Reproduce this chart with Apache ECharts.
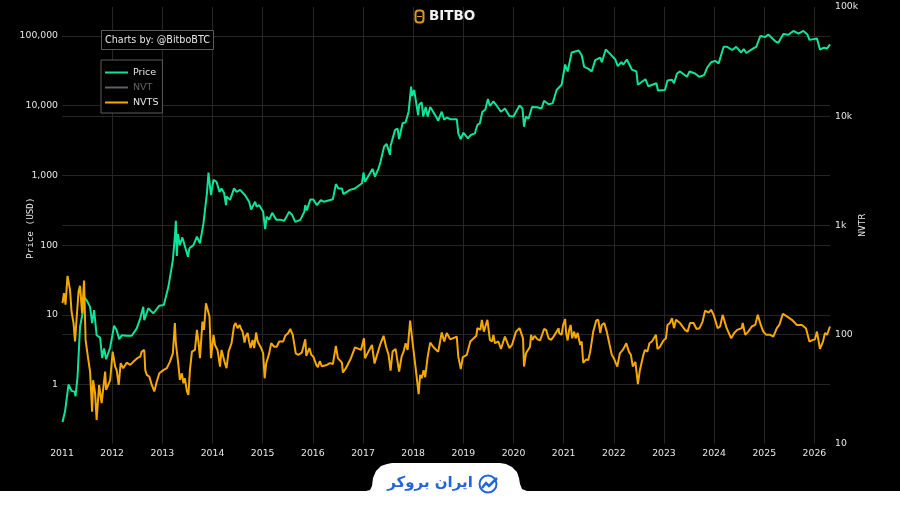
<!DOCTYPE html>
<html>
<head>
<meta charset="utf-8">
<style>html,body{margin:0;padding:0;background:#000}#chart{width:900px;height:506px}</style>
<script src="https://cdn.jsdelivr.net/npm/echarts@6/dist/echarts.min.js"></script>
</head>
<body>
<div id="chart"></div>
<script>
// تاریخ به صورت سال اعشاری
const priceDates = [2011.01,2011.06,2011.13,2011.19,2011.25,2011.27,2011.31,2011.36,2011.41,2011.44,2011.49,2011.56,2011.60,2011.64,2011.69,2011.76,2011.80,2011.84,2011.88,2011.96,2012.04,2012.09,2012.14,2012.19,2012.29,2012.39,2012.49,2012.56,2012.62,2012.64,2012.72,2012.82,2012.94,2013.03,2013.12,2013.21,2013.25,2013.27,2013.29,2013.31,2013.35,2013.40,2013.51,2013.54,2013.62,2013.69,2013.75,2013.82,2013.89,2013.92,2013.97,2014.02,2014.08,2014.14,2014.18,2014.23,2014.27,2014.28,2014.35,2014.43,2014.48,2014.55,2014.65,2014.73,2014.77,2014.85,2014.88,2014.93,2015.01,2015.05,2015.08,2015.13,2015.19,2015.27,2015.35,2015.43,2015.53,2015.59,2015.65,2015.75,2015.83,2015.85,2015.88,2015.95,2016.01,2016.08,2016.16,2016.22,2016.40,2016.46,2016.51,2016.58,2016.61,2016.74,2016.84,2016.98,2017.01,2017.04,2017.19,2017.24,2017.31,2017.35,2017.42,2017.47,2017.54,2017.55,2017.64,2017.69,2017.72,2017.79,2017.85,2017.91,2017.96,2017.98,2018.02,2018.10,2018.12,2018.17,2018.20,2018.25,2018.29,2018.34,2018.44,2018.50,2018.57,2018.62,2018.67,2018.74,2018.87,2018.90,2018.95,2019.00,2019.09,2019.15,2019.23,2019.28,2019.33,2019.38,2019.44,2019.49,2019.53,2019.60,2019.67,2019.75,2019.83,2019.92,2020.00,2020.12,2020.18,2020.21,2020.25,2020.30,2020.37,2020.47,2020.56,2020.61,2020.70,2020.78,2020.86,2020.96,2021.03,2021.08,2021.16,2021.30,2021.36,2021.41,2021.49,2021.56,2021.63,2021.73,2021.76,2021.84,2021.93,2022.03,2022.08,2022.15,2022.19,2022.26,2022.36,2022.39,2022.45,2022.48,2022.63,2022.69,2022.85,2022.88,2023.02,2023.07,2023.16,2023.20,2023.26,2023.32,2023.46,2023.51,2023.62,2023.70,2023.80,2023.86,2023.94,2024.02,2024.09,2024.19,2024.26,2024.36,2024.44,2024.54,2024.59,2024.64,2024.79,2024.84,2024.92,2025.02,2025.08,2025.22,2025.28,2025.38,2025.48,2025.58,2025.68,2025.78,2025.86,2025.90,2026.05,2026.11,2026.19,2026.25,2026.31];
const priceValues = [0.29,0.41,1.0,0.81,0.79,0.68,1.3,6.75,10.5,18,16.3,13,7.6,11.7,5.1,4.7,2.4,3.3,2.3,3.4,7,6,4.45,5.1,5,5,6.4,8.9,13,8.4,12.4,10.5,13.5,13.8,25,61,132,224,70,144,100,129,68,90,100,132,106,205,560,1100,520,860,810,580,650,560,375,500,445,650,580,620,520,420,325,420,355,375,300,170,255,232,290,232,232,224,300,270,215,230,300,375,315,450,450,375,440,420,455,750,650,650,540,620,650,770,1100,810,1240,960,1260,1570,2580,2830,1960,2640,4500,4700,3320,5600,5800,8200,18800,13800,16800,7300,10300,11200,7000,9600,7000,9600,7300,6100,8200,6300,6800,6400,6400,4020,3300,4100,3400,3800,4000,5300,5600,8200,8800,12500,9900,11500,9900,8200,9100,7100,7000,10100,9100,5000,7000,6500,9600,9500,9100,11800,10500,10800,16800,20000,39000,31000,58000,62000,53000,36000,34000,31000,45000,49000,42000,64000,55000,46000,37000,42000,39000,46000,33000,31000,31000,20000,24000,19000,21000,16500,16800,23000,23500,21000,29000,31000,26000,31000,29000,26000,27500,35000,42000,44000,40500,70000,70000,63000,70000,58000,65000,57000,67000,70000,100000,97000,105000,84000,80000,107000,104000,118000,108000,118000,105000,88000,92000,64000,68000,66000,76000];
const nvtsPoints = [
    [2011.01,193],[2011.04,239],[2011.07,187],[2011.11,344],[2011.13,344],[2011.16,256],[2011.19,162],[2011.23,127],[2011.26,86],[2011.28,118],[2011.33,247],[2011.36,279],[2011.40,156],[2011.44,312],[2011.47,89],[2011.52,60.5],[2011.56,45.6],[2011.60,19.6],[2011.62,38],[2011.66,29],[2011.69,16.4],[2011.74,34.4],[2011.79,23.4],[2011.86,45.6],[2011.88,31],[2011.96,38],[2012.01,69.5],[2012.06,50.7],[2012.09,47],[2012.13,34.4],[2012.17,54.5],[2012.22,49],[2012.29,55],
    [2012.36,52.5],[2012.42,56],[2012.50,60.5],[2012.56,62.5],[2012.59,69.5],[2012.64,72],[2012.66,47],[2012.69,42.5],[2012.74,41],[2012.79,34.4],[2012.84,30],[2012.89,37],[2012.94,44],[2013.02,47],[2013.09,49],[2013.15,56],[2013.21,67],[2013.25,127],[2013.27,83],[2013.32,52.5],[2013.35,38.3],[2013.39,44],[2013.42,35.6],[2013.45,39.6],[2013.49,30],[2013.52,27.9],[2013.55,47],[2013.59,69.5],[2013.65,72],[2013.69,110],[2013.72,86],[2013.75,60.5],[2013.80,131],[2013.83,110],[2013.87,193],[2013.90,200],[2013.94,146],[2013.97,60.5],[2014.02,99],[2014.05,80],[2014.10,72],[2014.15,50.7],[2014.18,72],[2014.24,56],[2014.28,49],[2014.32,69.5],
    [2014.38,83],[2014.43,120],[2014.46,127],[2014.50,114],[2014.54,122],[2014.57,112],[2014.60,106],[2014.64,84],[2014.66,95.5],[2014.70,103],[2014.73,86],[2014.76,75],[2014.80,89],[2014.83,75],[2014.87,104],[2014.90,86],[2014.93,89],[2014.97,75],[2015.01,67],[2015.04,39.6],[2015.07,54],[2015.10,54],[2015.13,67],[2015.17,83],[2015.20,86],[2015.23,77],[2015.28,77],[2015.33,86],[2015.41,86],[2015.45,97],[2015.51,103],[2015.55,112],[2015.60,99],[2015.66,67],[2015.71,65],[2015.78,68],[2015.85,90],[2015.87,63.5],[2015.93,75],[2015.97,65],
    [2016.01,62.5],[2016.07,52.5],[2016.10,50],[2016.14,57],[2016.18,51],[2016.28,52.5],[2016.34,54.5],[2016.40,53.5],[2016.46,78.5],[2016.50,60.5],[2016.58,55],[2016.60,44.7],[2016.66,49],[2016.76,60.5],[2016.84,76],[2016.96,72],[2017.02,92],[2017.04,60.5],[2017.09,67],[2017.18,80],[2017.23,54],[2017.29,67],[2017.34,80],[2017.41,97],[2017.46,77],[2017.51,65],[2017.55,46.5],[2017.59,69.5],[2017.65,73.5],[2017.69,56],[2017.72,45.6],[2017.77,62.5],[2017.81,69.5],[2017.85,83],[2017.89,72],[2017.94,134],[2017.99,83],
    [2018.05,49],[2018.11,28.3],[2018.14,42.5],[2018.17,39.6],[2018.21,47],[2018.24,40.5],[2018.29,62.5],[2018.34,84],[2018.40,77],[2018.46,72],[2018.50,69.5],[2018.57,104],[2018.62,86],[2018.67,103],[2018.74,90],[2018.87,95.5],[2018.90,62.5],[2018.95,48],[2018.99,62],[2019.07,65],[2019.14,86],[2019.26,97],[2019.28,114],[2019.34,110],[2019.37,136],[2019.41,106],[2019.48,136],[2019.53,89],[2019.57,86],[2019.60,99],[2019.63,83],[2019.70,86],[2019.75,73.5],[2019.83,95.5],[2019.92,75],[2019.97,80],[2020.05,106],[2020.12,114],[2020.19,92],[2020.21,50.7],[2020.25,67],[2020.33,77],
    [2020.35,99],[2020.38,89],[2020.42,97],[2020.48,90],[2020.53,88],[2020.57,99],[2020.61,112],[2020.65,110],[2020.70,92],[2020.75,89],[2020.80,95.5],[2020.86,106],[2020.90,114],[2020.91,103],[2020.96,99],[2020.99,122],[2021.03,138],[2021.05,103],[2021.08,88],[2021.11,110],[2021.14,122],[2021.17,92],[2021.21,106],[2021.24,92],[2021.28,103],[2021.33,80],[2021.36,86],[2021.39,55],[2021.45,59],[2021.49,58],[2021.53,69.5],[2021.56,69.5],[2021.59,106],[2021.65,134],[2021.69,136],[2021.73,103],[2021.76,122],[2021.81,127],[2021.86,106],[2021.91,83],[2021.96,65],
    [2022.00,60.5],[2022.07,50.7],[2022.12,67],[2022.18,72],[2022.21,69.5],[2022.25,83],[2022.30,69.5],[2022.34,65],[2022.38,50.7],[2022.43,56],[2022.46,42.5],[2022.48,35],[2022.52,47],[2022.59,65],[2022.62,72],[2022.67,69.5],[2022.71,83],[2022.76,86],[2022.84,99],[2022.87,73.5],[2022.92,77],[2022.99,88],[2023.04,92],[2023.07,122],[2023.12,127],[2023.16,141],[2023.20,114],[2023.24,136],[2023.32,127],[2023.42,110],[2023.47,106],[2023.52,127],[2023.59,127],[2023.65,112],[2023.71,114],[2023.77,131],[2023.82,165],[2023.89,158],[2023.94,168],[2023.99,151],
    [2024.07,114],[2024.12,118],[2024.17,151],[2024.25,114],[2024.34,92],[2024.40,103],[2024.46,110],[2024.55,114],[2024.57,127],[2024.62,99],[2024.68,106],[2024.75,118],[2024.82,122],[2024.87,151],[2024.93,122],[2024.98,106],[2025.04,99],[2025.12,99],[2025.18,95.5],[2025.25,114],[2025.30,122],[2025.37,154],[2025.45,146],[2025.55,136],[2025.65,122],[2025.75,122],[2025.83,114],[2025.90,86],[2025.97,89],[2026.01,90],[2026.05,106],[2026.11,73.5],[2026.17,86],[2026.21,103],[2026.25,99],[2026.31,118]
];
const nvtPoints = [];

const xMin = 2011;
const xMax = 2026.31;
const priceColor = '#0de39b';
const nvtColor = '#5b6a70';
const nvtsColor = '#f5a800';
const gridColor = '#262626';
const labelColor = '#e6e6e6';
const fontName = '"DejaVu Sans", sans-serif';

function pairs(xs, ys) {
    return xs.map((x, i) => [x, ys[i]]);
}

const myChart = echarts.init(document.getElementById('chart'), null, { renderer: 'canvas' });

myChart.setOption({
    animation: false,
    backgroundColor: '#000',
    textStyle: { fontFamily: fontName },
    grid: { left: 62, right: 70, top: 7, bottom: 62.5, outerBoundsMode: 'none' },
    title: {
        text: 'Charts by: @BitboBTC',
        left: 101,
        top: 30,
        padding: [5, 4, 5, 4],
        backgroundColor: '#000',
        borderColor: '#5a5a5a',
        borderWidth: 1,
        textStyle: { color: labelColor, fontSize: 9.6, fontWeight: 'normal', fontFamily: fontName }
    },
    legend: {
        orient: 'vertical',
        left: 101,
        top: 60,
        padding: [7, 4, 5, 4],
        itemGap: 4,
        itemWidth: 23,
        itemHeight: 2,
        icon: 'rect',
        backgroundColor: '#000',
        borderColor: '#5a5a5a',
        borderWidth: 1,
        inactiveColor: '#5b6266',
        textStyle: { color: labelColor, fontSize: 9.5, lineHeight: 11, padding: [0, 0, 0, 0] },
        data: ['Price', 'NVT', 'NVTS'],
        selected: { NVT: false }
    },
    xAxis: {
        type: 'value',
        min: xMin,
        max: xMax,
        interval: 1,
        axisLine: { show: false },
        axisTick: { show: false },
        axisLabel: {
            color: labelColor,
            fontSize: 9.3,
            margin: 6,
            showMaxLabel: false,
            formatter: v => String(Math.round(v))
        },
        splitLine: { show: true, showMinLine: false, showMaxLine: false, lineStyle: { color: gridColor, width: 1 } }
    },
    yAxis: [
        {
            type: 'log',
            logBase: 10,
            min: 0.1425,
            max: 260600,
            name: 'Price (USD)',
            nameLocation: 'middle',
            nameGap: 27,
            nameMoveOverlap: false,
            nameTextStyle: { color: labelColor, fontSize: 9.3, fontFamily: '"DejaVu Sans Mono", monospace', padding: [0, 6, 0, 0] },
            axisLine: { show: false },
            axisTick: { show: false },
            axisLabel: {
                color: labelColor,
                fontSize: 9.3,
                margin: 4,
                showMinLabel: false,
                showMaxLabel: false,
                formatter: v => Math.round(v).toLocaleString('en-US')
            },
            splitLine: { show: true, showMinLine: false, showMaxLine: false, lineStyle: { color: gridColor, width: 1 } }
        },
        {
            type: 'log',
            logBase: 10,
            min: 10,
            max: 100000,
            position: 'right',
            name: 'NVTR',
            nameLocation: 'middle',
            nameRotate: 90,
            nameGap: 28,
            nameMoveOverlap: false,
            nameTextStyle: { color: labelColor, fontSize: 9.5, fontFamily: '"DejaVu Sans Mono", monospace' },
            axisLine: { show: false },
            axisTick: { show: false },
            axisLabel: {
                color: labelColor,
                fontSize: 9.3,
                margin: 5,
                formatter: v => {
                    const n = Math.round(v);
                    return n >= 1000 ? (n / 1000) + 'k' : String(n);
                }
            },
            splitLine: { show: true, showMinLine: false, showMaxLine: false, lineStyle: { color: gridColor, width: 1 } }
        }
    ],
    series: [
        {
            name: 'Price',
            type: 'line',
            yAxisIndex: 0,
            showSymbol: false,
            data: pairs(priceDates, priceValues),
            itemStyle: { color: priceColor },
            lineStyle: { color: priceColor, width: 2 }
        },
        {
            name: 'NVT',
            type: 'line',
            yAxisIndex: 1,
            showSymbol: false,
            data: nvtPoints,
            itemStyle: { color: nvtColor },
            lineStyle: { color: nvtColor, width: 2 }
        },
        {
            name: 'NVTS',
            type: 'line',
            yAxisIndex: 1,
            showSymbol: false,
            data: nvtsPoints,
            itemStyle: { color: nvtsColor },
            lineStyle: { color: nvtsColor, width: 2 }
        }
    ],
    graphic: [
        // لوگوی بالا
        { type: 'rect', shape: { x: 415.5, y: 10.5, width: 8, height: 12, r: 3 }, style: { fill: 'none', stroke: '#d9962b', lineWidth: 2 }, z: 10 },
        { type: 'line', shape: { x1: 417, y1: 16.5, x2: 422, y2: 16.5 }, style: { stroke: '#d9962b', lineWidth: 1 }, z: 10 },
        { type: 'text', style: { x: 429, y: 16, text: 'BITBO', fill: '#f2f2f2', font: 'bold 13.5px "DejaVu Sans"', textVerticalAlign: 'middle' }, z: 10 },
        // نوار سفید پایین
        {
            type: 'polygon',
            shape: {
                points: [[0, 491], [366, 491], [370, 490], [372, 486], [373, 478], [376, 471], [381, 466], [387, 464], [392, 463], [500, 463], [506, 464], [512, 467], [517, 472], [519, 478], [520, 484], [522, 489], [527, 491], [900, 491], [900, 506], [0, 506]]
            },
            style: { fill: '#fff' },
            z: 10
        },
        { type: 'text', style: { x: 430, y: 483, text: 'ایران بروکر', fill: '#2563dc', font: 'bold 15px "DejaVu Sans"', textAlign: 'center', textVerticalAlign: 'middle' }, z: 11 },
        { type: 'circle', shape: { cx: 488, cy: 484, r: 8.5 }, style: { fill: 'none', stroke: '#2563dc', lineWidth: 2 }, z: 11 },
        { type: 'polyline', shape: { points: [[482, 488], [486, 483], [489, 486], [497, 478]] }, style: { fill: 'none', stroke: '#2563dc', lineWidth: 2.5 }, z: 12 }
    ]
});
</script>
</body>
</html>
